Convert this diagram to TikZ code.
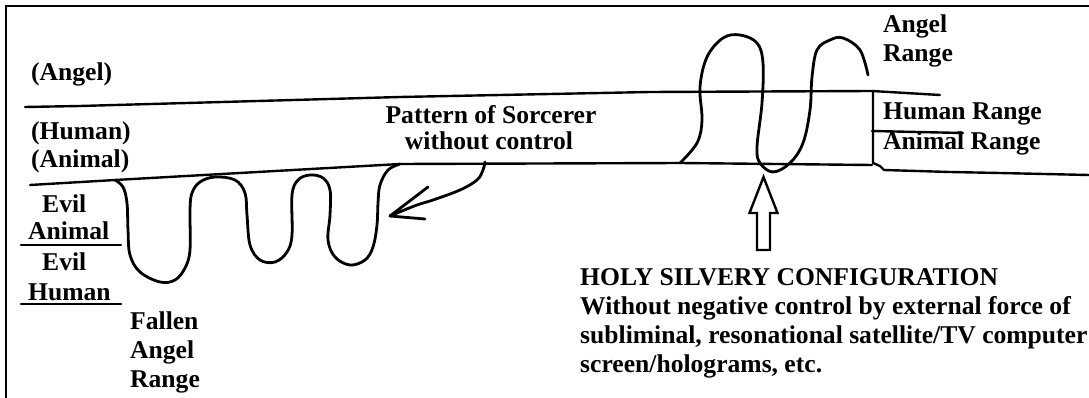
\documentclass[tikz,border=0pt]{standalone}
\usepackage{fontspec}
\setmainfont{Liberation Serif}
\begin{document}
\begin{tikzpicture}[x=1pt,y=-1pt,
  lbl/.style={font=\fontsize{25.6}{29}\selectfont\bfseries, anchor=base west, inner sep=0pt},
  clbl/.style={font=\fontsize{25.6}{29}\selectfont\bfseries, anchor=base, inner sep=0pt},
  ink/.style={line width=2.8pt, line cap=round, line join=round},
  rule/.style={line width=2.4pt, line cap=round}]
\useasboundingbox (0,0) rectangle (1089,398);
% frame
\draw[line width=2pt] (6,398) -- (6,6) -- (1089,6);
% range lines
\draw[rule] (25,107) -- (80,106) -- (400,97) -- (650,92) -- (872,91) -- (940,95);
\draw[rule] (30,185) -- (115,180) -- (400,164) -- (680,163) -- (872,165);
\draw[rule] (873,91) -- (873,163) -- (880,166) -- (884,170) -- (950,172) -- (1000,173) -- (1089,175);
\draw[rule] (872,131) -- (963,133);
% left labels
\node[lbl] (angel) at (31,81) {(Angel)};
\node[lbl] (human) at (31,140) {(Human)};
\node[lbl] (animal) at (31,168) {(Animal)};
\node[lbl] (evil1) at (42,212) {Evil};
\node[lbl] (evana) at (28,240) {Animal};
\draw[rule] (21,245) -- (121,245);
\node[lbl] (evil2) at (42,270) {Evil};
\node[lbl] (evhum) at (28,300) {Human};
\draw[rule] (21,304) -- (121,304);
\node[lbl] (fal1) at (130,329) {Fallen};
\node[lbl] (fal2) at (130,358) {Angel};
\node[lbl] (fal3) at (130,387) {Range};
% right labels
\node[lbl] (ar1) at (883,33) {Angel};
\node[lbl] (ar2) at (883,62) {Range};
\node[lbl] (hr) at (883,120) {Human Range};
\node[lbl] (anr) at (883,150) {Animal Range};
% sorcerer label
\node[clbl] (sorc) at (491,124) {Pattern of Sorcerer};
\node[clbl] (sorc2) at (489,150) {without control};
% left (fallen) loops
\draw[ink] plot[smooth, tension=0.6] coordinates {
 (115,180) (123,187) (127,203) (128,230) (130,255) (140,272) (160,282) (175,280)
 (185,268) (190,250) (190,210) (192,193) (200,182) (215,177) (235,180) (245,193)
 (247,215) (250,245) (260,260) (275,262) (287,252) (292,235) (292,195) (298,180)
 (310,175) (323,178) (330,190) (330,215) (328,240) (335,257) (350,265) (365,260)
 (373,247) (377,225) (378,203) (380,185) (388,170) (400,164)};
% right (angel) loops
\draw[ink] plot[smooth, tension=0.6] coordinates {
 (680,163) (697,143) (702,120) (700,87) (707,57) (723,38) (740,35) (757,43)
 (763,63) (762,103) (757,147) (760,163) (773,172) (790,163) (803,143) (810,110)
 (812,77) (817,50) (830,40) (843,38) (860,50) (868,75)};
% sorcerer arrow
\coordinate (stip) at (390,216);
\draw[ink] plot[smooth, tension=0.6] coordinates {
 (485,162) (483,170) (477,180) (460,190) (433,200) (417,205) (397,213) (390,216)};
\draw[ink] (428,187) -- (stip) -- (425,219);
% holy text
\node[lbl] (holy1) at (580,285) {HOLY SILVERY CONFIGURATION};
\node[lbl] (holy2) at (580,314) {Without negative control by external force of};
\node[lbl] (holy3) at (580,343) {subliminal, resonational satellite/TV computer};
\node[lbl] (holy4) at (580,372) {screen/holograms, etc.};
% hollow up arrow
\coordinate (htip) at (763.5,177);
\draw[line width=2.4pt, line join=miter] (htip) -- (777.5,213) -- (770,213) -- (770,250)
  -- (757,250) -- (757,213) -- (749.5,213) -- cycle;
\end{tikzpicture}
\end{document}
